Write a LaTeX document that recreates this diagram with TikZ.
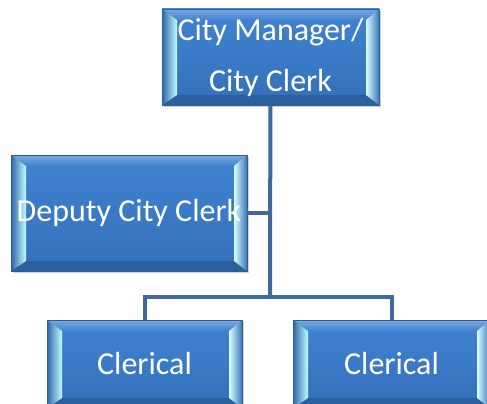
\documentclass[tikz,border=0pt]{standalone}
\usepackage{fontspec}
\setmainfont{Carlito}
\usepackage{tikz}
\usetikzlibrary{arrows,shapes,shadows}
\definecolor{boxtop}{HTML}{4083D1}
\definecolor{boxbot}{HTML}{3470BA}
\definecolor{boxline}{HTML}{2E5C94}
\definecolor{linkblue}{HTML}{41699B}
\tikzstyle{box}=[rectangle,draw=boxline,thin,top color=boxtop,bottom color=boxbot,
  text=white,inner sep=0pt,align=center,font=\fontsize{32}{51}\selectfont,
  drop shadow={shadow xshift=2pt,shadow yshift=-2pt,opacity=0.35},
  path picture={
    \path (path picture bounding box.north west) coordinate (pA)
          (path picture bounding box.north east) coordinate (pB)
          (path picture bounding box.south east) coordinate (pC)
          (path picture bounding box.south west) coordinate (pD);
    \shade[top color=boxtop!70!white,bottom color=boxtop] (pA) -- (pB) -- ([shift={(-13pt,-11pt)}]pB) -- ([shift={(15pt,-11pt)}]pA) -- cycle;
    \fill[boxbot!85!black] (pD) -- (pC) -- ([shift={(-13pt,10pt)}]pC) -- ([shift={(15pt,10pt)}]pD) -- cycle;
    \shade[left color=boxbot!90!black,right color=cyan!25!white] (pA) -- (pD) -- ([shift={(15pt,10pt)}]pD) -- ([shift={(15pt,-11pt)}]pA) -- cycle;
    \shade[left color=cyan!15!white,right color=boxtop!90!black] ([shift={(-13pt,-11pt)}]pB) -- ([shift={(-13pt,10pt)}]pC) -- (pC) -- (pB) -- cycle;
  }]
\tikzstyle{edge} = [draw,line width=4pt,linkblue]

\begin{document}
\begin{tikzpicture}[x=1pt,y=-1pt]
      \clip (0,0) rectangle (487,404);
      \fill[white] (0,0) rectangle (487,404);
      \node[box,minimum width=217pt,minimum height=96pt] (mgr) at (270.5,57) {City Manager/\\City Clerk};
      \node[box,minimum width=236pt,minimum height=116pt] (dep) at (129,213) {Deputy City Clerk};
      \node[box,minimum width=195pt,minimum height=88pt] (clA) at (144.5,364) {Clerical};
      \node[box,minimum width=197pt,minimum height=88pt] (clB) at (391.5,364) {Clerical};
      \coordinate (bar) at (270,297);
      \draw[edge] (mgr) -- (bar);
      \draw[edge] (dep) -- (dep -| bar);
      \draw[edge] (bar) -| (clA);
      \draw[edge] (bar) -| (clB);
\end{tikzpicture}
\end{document}
